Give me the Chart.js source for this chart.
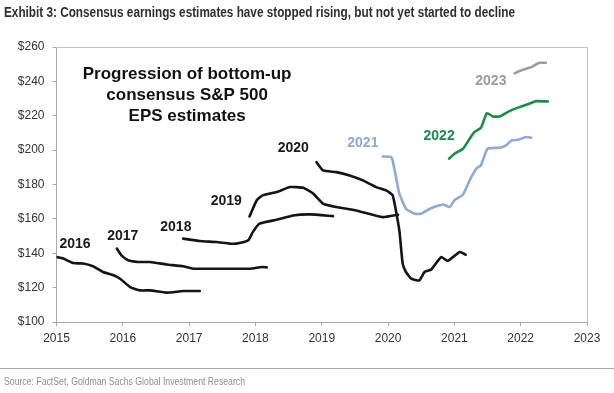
<!DOCTYPE html>
<html>
<head>
<meta charset="utf-8">
<script src="https://cdn.jsdelivr.net/npm/chart.js@4/dist/chart.umd.min.js"></script>
<style>
  html, body { margin: 0; padding: 0; background: #fff; }
  #wrap { position: relative; width: 614px; height: 393px; overflow: hidden; }
  #c { position: absolute; left: 0; top: 0; }
  .fit { position: absolute; white-space: nowrap; transform-origin: 0 0; font-family: "Liberation Sans", Arial, sans-serif; }
  #hdr { left: 4px; top: 3px; font-weight: bold; font-size: 15px; color: #2e2e2e; }
  #rule { position: absolute; left: 0; top: 368px; width: 614px; height: 1px; background: #a8a8a8; }
  #src { left: 4px; top: 376px; font-size: 10px; color: #8e8e8e; }
</style>
</head>
<body>
<div id="wrap">
  <canvas id="c" width="614" height="393"></canvas>
  <div id="hdr" class="fit" data-w="511">Exhibit 3: Consensus earnings estimates have stopped rising, but not yet started to decline</div>
  <div id="rule"></div>
  <div id="src" class="fit" data-w="241">Source: FactSet, Goldman Sachs Global Investment Research</div>
</div>
<script>
// ---- Tick labels ----
const xTickValues = [2015, 2016, 2017, 2018, 2019, 2020, 2021, 2022, 2023];
const xTickLabels = ['2015', '2016', '2017', '2018', '2019', '2020', '2021', '2022', '2023'];
const yTickValues = [100, 120, 140, 160, 180, 200, 220, 240, 260];
const yTickLabels = ['$100', '$120', '$140', '$160', '$180', '$200', '$220', '$240', '$260'];

// ---- Series (date as decimal year, EPS estimate in $) ----
const eps2016Dates  = [2015.00, 2015.10, 2015.25, 2015.40, 2015.55, 2015.70, 2015.86, 2015.96, 2016.11, 2016.26, 2016.41, 2016.66, 2016.91, 2017.16];
const eps2016Values = [137.8, 136.9, 134.3, 134.0, 132.4, 129.1, 127.2, 125.2, 120.3, 118.4, 118.4, 117.1, 118.0, 118.0];

const eps2017Dates  = [2015.91, 2015.98, 2016.08, 2016.23, 2016.41, 2016.66, 2016.91, 2017.06, 2017.41, 2017.91, 2018.10, 2018.17];
const eps2017Values = [142.7, 138.8, 135.9, 134.9, 134.9, 133.5, 132.4, 131.0, 131.0, 131.0, 132.0, 131.8];

const eps2018Dates  = [2016.91, 2017.16, 2017.41, 2017.61, 2017.71, 2017.89, 2017.96, 2018.06, 2018.32, 2018.57, 2018.82, 2019.17];
const eps2018Values = [148.5, 147.1, 146.5, 145.6, 145.6, 147.5, 152.3, 157.2, 159.5, 162.0, 162.6, 161.6];

const eps2019Dates  = [2017.91, 2018.02, 2018.11, 2018.32, 2018.52, 2018.72, 2018.87, 2019.02, 2019.22, 2019.52, 2019.92, 2020.15];
const eps2019Values = [161.4, 170.8, 173.7, 175.6, 178.5, 178.1, 174.7, 168.8, 166.9, 164.9, 161.0, 162.4];

const eps2020Dates  = [2018.92, 2019.02, 2019.22, 2019.42, 2019.62, 2019.82, 2019.97, 2020.07, 2020.17, 2020.22, 2020.27, 2020.35, 2020.47, 2020.55, 2020.65, 2020.80, 2020.90, 2021.08, 2021.17];
const eps2020Values = [193.0, 188.2, 187.2, 185.3, 182.4, 178.5, 176.6, 173.7, 153.3, 134.0, 129.1, 125.2, 124.2, 129.1, 130.5, 137.8, 135.5, 140.7, 139.2];

const eps2021Dates  = [2019.92, 2020.05, 2020.10, 2020.17, 2020.27, 2020.40, 2020.50, 2020.63, 2020.83, 2020.93, 2021.00, 2021.13, 2021.23, 2021.33, 2021.40, 2021.50, 2021.68, 2021.78, 2021.86, 2021.96, 2022.08, 2022.16];
const eps2021Values = [196.3, 195.9, 188.2, 174.7, 165.9, 163.0, 163.0, 165.9, 168.4, 166.9, 170.8, 174.2, 182.4, 189.2, 191.1, 200.8, 201.4, 202.7, 205.6, 206.0, 207.6, 207.2];

const eps2022Dates  = [2020.92, 2021.00, 2021.13, 2021.23, 2021.30, 2021.40, 2021.49, 2021.58, 2021.68, 2021.83, 2021.98, 2022.13, 2022.23, 2022.41];
const eps2022Values = [195.0, 197.9, 200.8, 206.6, 210.5, 213.0, 221.5, 219.6, 219.6, 222.7, 225.0, 227.0, 228.5, 228.3];

const eps2023Dates  = [2021.91, 2022.03, 2022.16, 2022.28, 2022.38];
const eps2023Values = [244.8, 246.7, 248.3, 250.8, 250.8];

const seriesNames = ['2016', '2017', '2018', '2019', '2020', '2021', '2022', '2023'];
const chartTitleLines = ['Progression of bottom-up', 'consensus S&P 500', 'EPS estimates'];

// ---- styling / annotation placement (not data) ----
const colBlack = '#141414', colBlue = '#8eaad2', colGreen = '#1e8a4c', colGrey = '#9a9aa4';
const seriesColors = [colBlack, colBlack, colBlack, colBlack, colBlack, colBlue, colGreen, colGrey];
const labelPlacement = [
  [2015.28, 145.2], [2016.00, 149.8], [2016.80, 155.1], [2017.56, 170.3],
  [2018.57, 201.4], [2019.62, 204.1], [2020.77, 208.1], [2021.55, 240.1]
];
const titlePlacement = { x: 2016.97, y: [244.0, 231.8, 219.6] };

function pts(xs, ys) { return xs.map((x, i) => ({ x: x, y: ys[i] })); }
const allSeries = [
  pts(eps2016Dates, eps2016Values), pts(eps2017Dates, eps2017Values),
  pts(eps2018Dates, eps2018Values), pts(eps2019Dates, eps2019Values),
  pts(eps2020Dates, eps2020Values), pts(eps2021Dates, eps2021Values),
  pts(eps2022Dates, eps2022Values), pts(eps2023Dates, eps2023Values)
];

// fit header/source text to the reference widths (narrow face emulation)
document.querySelectorAll('.fit').forEach(el => {
  const w = el.getBoundingClientRect().width;
  const target = parseFloat(el.dataset.w);
  if (w > 0) el.style.transform = 'scaleX(' + (target / w) + ')';
});

const FONT = '"Liberation Sans", Arial, sans-serif';
const frameColor = '#a9a9a9';

const annot = {
  id: 'annot',
  beforeDatasetsDraw(chart) {
    const { ctx, chartArea: a } = chart;
    ctx.save();
    ctx.strokeStyle = '#c4c4c4';
    ctx.lineWidth = 1;
    ctx.beginPath();
    ctx.moveTo(a.left, a.top + 0.5);
    ctx.lineTo(a.right + 0.5, a.top + 0.5);
    ctx.lineTo(a.right + 0.5, a.bottom);
    ctx.stroke();
    ctx.restore();
  },
  afterDatasetsDraw(chart) {
    const { ctx, scales: { x, y } } = chart;
    ctx.save();
    ctx.textAlign = 'center';
    ctx.textBaseline = 'middle';
    ctx.font = 'bold 14px ' + FONT;
    seriesNames.forEach((n, i) => {
      ctx.fillStyle = seriesColors[i] === colBlack ? '#1a1a1a' : seriesColors[i];
      ctx.fillText(n, x.getPixelForValue(labelPlacement[i][0]), y.getPixelForValue(labelPlacement[i][1]));
    });
    ctx.fillStyle = '#111';
    ctx.font = 'bold 17px ' + FONT;
    chartTitleLines.forEach((t, i) => {
      ctx.fillText(t, x.getPixelForValue(titlePlacement.x), y.getPixelForValue(titlePlacement.y[i]));
    });
    ctx.restore();
  }
};

new Chart(document.getElementById('c'), {
  type: 'line',
  data: {
    datasets: allSeries.map((d, i) => ({
      label: seriesNames[i],
      data: d,
      borderColor: seriesColors[i],
      borderWidth: 2.6,
      pointRadius: 0,
      tension: 0.15,
      fill: false,
      borderCapStyle: 'round',
      borderJoinStyle: 'round'
    }))
  },
  options: {
    responsive: false,
    animation: false,
    layout: { padding: { left: 0, top: 47, right: 27, bottom: 47 } },
    plugins: { legend: { display: false }, tooltip: { enabled: false } },
    scales: {
      x: {
        type: 'linear',
        min: 2015, max: 2023,
        afterBuildTicks(s) { s.ticks = xTickValues.map(v => ({ value: v })); },
        afterFit(s) { s.height = 24; },
        ticks: {
          callback: (v) => xTickLabels[xTickValues.indexOf(v)],
          color: '#333', font: { family: FONT, size: 12 }, padding: 5, maxRotation: 0, autoSkip: false
        },
        grid: { drawOnChartArea: false, drawTicks: true, tickLength: 4, color: frameColor },
        border: { display: true, color: frameColor, width: 1 }
      },
      y: {
        type: 'linear',
        min: 100, max: 260,
        afterBuildTicks(s) { s.ticks = yTickValues.map(v => ({ value: v })); },
        afterFit(s) { s.width = 56.5; },
        ticks: {
          callback: (v) => yTickLabels[yTickValues.indexOf(v)],
          color: '#333', font: { family: FONT, size: 12 }, padding: 8
        },
        grid: { drawOnChartArea: false, drawTicks: true, tickLength: 4, color: frameColor },
        border: { display: true, color: frameColor, width: 1 }
      }
    }
  },
  plugins: [annot]
});
</script>
</body>
</html>
